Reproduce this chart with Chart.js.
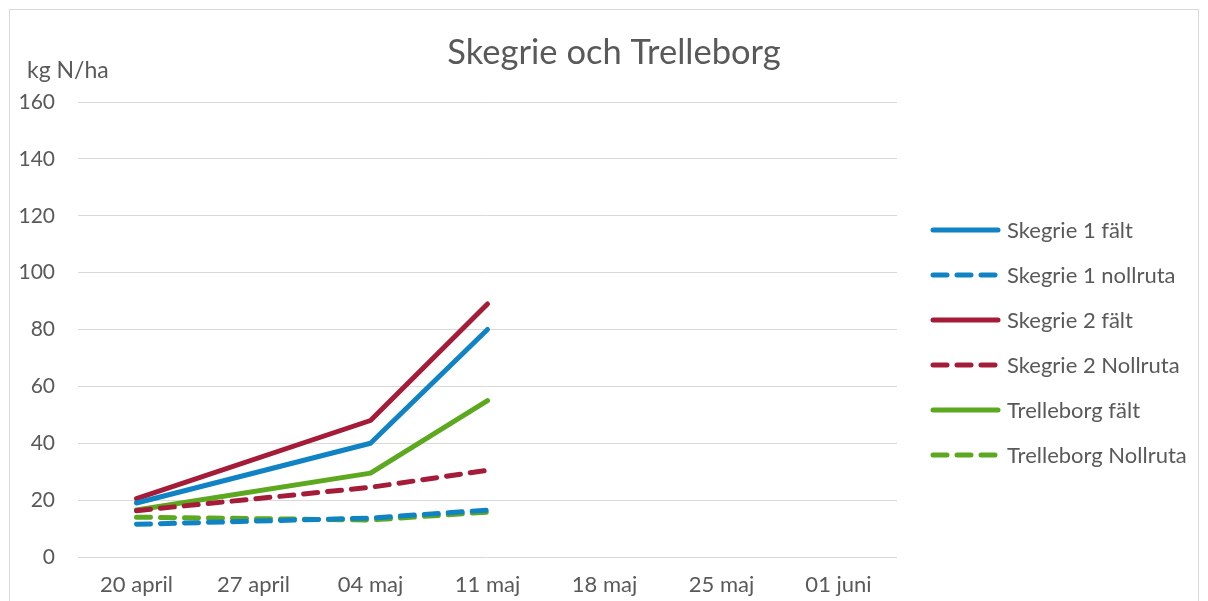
<!DOCTYPE html>
<html>
<head>
<meta charset="utf-8">
<script src="https://cdn.jsdelivr.net/npm/chart.js@4/dist/chart.umd.min.js"></script>
<style>
  html, body { margin: 0; padding: 0; background: #fff; }
  #wrap { width: 1208px; height: 601px; }
</style>
</head>
<body>
<div id="wrap"><canvas id="nChart" width="1208" height="601"></canvas></div>
<script>
const dates = ["20 april", "27 april", "04 maj", "11 maj", "18 maj", "25 maj", "01 juni"];

const skegrie1Falt = [19, null, 40, 80, null, null, null];
const skegrie1Noll = [11.5, null, 13.7, 16.5, null, null, null];
const skegrie2Falt = [20.5, null, 48, 89, null, null, null];
const skegrie2Noll = [16.3, null, 24.5, 30.5, null, null, null];
const trelleborgFalt = [16.5, null, 29.5, 55, null, null, null];
const trelleborgNoll = [14, null, 13, 15.8, null, null, null];

const blue = "#0F83C4";
const red = "#A51C38";
const green = "#5CA81E";
const grey = "#595959";
const font = "Lato, 'Open Sans', sans-serif";

function line(label, data, color, dashed) {
  return {
    label: label,
    data: data,
    borderColor: color,
    backgroundColor: color,
    borderWidth: 5,
    borderDash: dashed ? [14, 10] : [],
    borderCapStyle: "round",
    borderJoinStyle: "round",
    pointRadius: 0,
    pointHoverRadius: 0,
    tension: 0,
    spanGaps: true,
    fill: false,
  };
}

// frame, title, y-axis label and legend
const extras = {
  id: "extras",
  beforeDraw(chart) {
    const ctx = chart.ctx;
    ctx.save();
    ctx.fillStyle = "#fff";
    ctx.fillRect(0, 0, chart.width, chart.height);
    ctx.strokeStyle = "#D9D9D9";
    ctx.lineWidth = 1;
    ctx.strokeRect(9.5, 9.5, 1189, 620);
    ctx.restore();
  },
  afterDraw(chart) {
    const ctx = chart.ctx;
    ctx.save();
    ctx.fillStyle = grey;
    ctx.textBaseline = "middle";
    ctx.textAlign = "center";
    ctx.font = "34.5px " + font;
    ctx.fillText("Skegrie och Trelleborg", 614, 53);
    ctx.textAlign = "left";
    ctx.font = "23px " + font;
    ctx.fillText("kg N/ha", 27, 71);

    ctx.font = "22px " + font;
    chart.data.datasets.forEach((ds, i) => {
      const y = 230 + i * 45;
      ctx.strokeStyle = ds.borderColor;
      ctx.lineWidth = 5;
      ctx.lineCap = "round";
      ctx.setLineDash(ds.borderDash);
      ctx.beginPath();
      ctx.moveTo(933, y);
      ctx.lineTo(998, y);
      ctx.stroke();
      ctx.fillStyle = grey;
      ctx.fillText(ds.label, 1007, y + 1);
    });
    ctx.restore();
  },
};

new Chart(document.getElementById("nChart"), {
  type: "line",
  data: {
    labels: dates,
    datasets: [
      line("Skegrie 1 fält", skegrie1Falt, blue, false),
      line("Skegrie 1 nollruta", skegrie1Noll, blue, true),
      line("Skegrie 2 fält", skegrie2Falt, red, false),
      line("Skegrie 2 Nollruta", skegrie2Noll, red, true),
      line("Trelleborg fält", trelleborgFalt, green, false),
      line("Trelleborg Nollruta", trelleborgNoll, green, true),
    ],
  },
  options: {
    responsive: false,
    animation: false,
    events: [],
    layout: { padding: { left: 10, right: 311, top: 102, bottom: 0 } },
    plugins: {
      legend: { display: false },
      title: { display: false },
      tooltip: { enabled: false },
    },
    scales: {
      x: {
        offset: true,
        grid: { display: false, drawTicks: false },
        border: { display: false },
        ticks: { color: grey, font: { family: font, size: 22 }, padding: 15, maxRotation: 0 },
        afterFit(scale) { scale.height = 44; },
      },
      y: {
        min: 0,
        max: 160,
        ticks: { stepSize: 20, color: grey, font: { family: font, size: 21 }, padding: 23 },
        grid: { color: "#D9D9D9", lineWidth: 1, drawTicks: false },
        border: { display: false },
        afterFit(scale) { scale.width = 68; },
      },
    },
  },
  plugins: [extras],
});
</script>
</body>
</html>
